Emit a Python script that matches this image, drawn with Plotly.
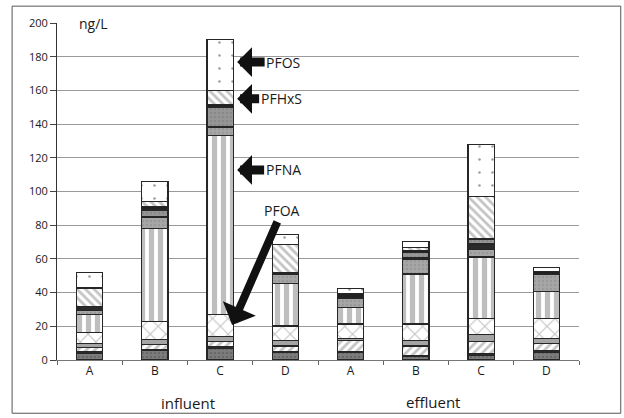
import plotly.graph_objects as go

# ---------------- data ----------------
cat_keys = ["inf-A", "inf-B", "inf-C", "inf-D", "eff-A", "eff-B", "eff-C", "eff-D"]
cat_labels = ["A", "B", "C", "D", "A", "B", "C", "D"]
group_labels = ["influent", "effluent"]

PFBA = [4, 5.5, 7, 4.5, 4.5, 2, 2.5, 4.5]
PFPeA = [1, 0.5, 1, 0.5, 0.5, 0.5, 1.5, 1]
PFHxA = [2.5, 3, 3, 3.3, 6.5, 5.8, 6.9, 4.4]
PFHpA = [2.4, 3, 3, 3.2, 1.4, 3.2, 4, 3]
PFOA = [6.4, 11, 13, 8.7, 8.5, 9.9, 9.9, 11.9]
PFNA = [10.5, 55, 106, 25, 9.6, 29.6, 36.3, 15.9]
PFDA = [2.5, 6.5, 5, 5.8, 5.7, 9, 4.4, 9.9]
PFUnDA = [2.4, 0.5, 0.5, 0, 0, 0.5, 3.3, 0]
PFDoDA = [0, 4, 11.5, 0, 0, 3.5, 3, 0]
PFBS = [0, 2, 1.5, 1, 2.6, 1, 0, 2]
PFHxS = [11, 3, 8.5, 16.5, 0.3, 2, 25, 0]
PFOS = [9.3, 12, 30, 6, 3, 3.5, 31.2, 2.4]

y_ticks = [0, 20, 40, 60, 80, 100, 120, 140, 160, 180, 200]

series = [
    ("PFBA", PFBA, dict(color="#7c7c7c", pattern=dict(shape=".", fgcolor="#555555", size=4, solidity=0.3))),
    ("PFPeA", PFPeA, dict(color="#2a2a2a")),
    ("PFHxA", PFHxA, dict(color="white", pattern=dict(shape="/", fgcolor="#888888", bgcolor="white", size=6, solidity=0.45))),
    ("PFHpA", PFHpA, dict(color="#a4a4a4")),
    ("PFOA", PFOA, dict(color="white", pattern=dict(shape="x", fgcolor="#888888", bgcolor="white", size=11, solidity=0.2))),
    ("PFNA", PFNA, dict(color="white", pattern=dict(shape="|", fgcolor="#7e7e7e", bgcolor="white", size=9, solidity=0.58))),
    ("PFDA", PFDA, dict(color="#a6a6a6", pattern=dict(shape=".", fgcolor="#8a8a8a", size=4, solidity=0.3))),
    ("PFUnDA", PFUnDA, dict(color="#2a2a2a")),
    ("PFDoDA", PFDoDA, dict(color="#969696", pattern=dict(shape=".", fgcolor="#7a7a7a", size=4, solidity=0.3))),
    ("PFBS", PFBS, dict(color="#222222")),
    ("PFHxS", PFHxS, dict(color="white", pattern=dict(shape="\\", fgcolor="#888888", bgcolor="white", size=6, solidity=0.45))),
    ("PFOS", PFOS, dict(color="white", pattern=dict(shape=".", fgcolor="#3a3a3a", bgcolor="white", size=13, solidity=0.03))),
]

fig = go.Figure()
for name, vals, mk in series:
    mk = dict(mk)
    mk["line"] = dict(color="#262626", width=1.2)
    fig.add_trace(go.Bar(x=cat_keys, y=vals, name=name, marker=mk, showlegend=False))

font = "Open Sans, Noto Sans, sans-serif"

fig.update_layout(
    barmode="stack",
    bargap=0.6,
    width=624, height=418,
    margin=dict(l=57, r=45, t=23, b=58),
    paper_bgcolor="white", plot_bgcolor="white",
    font=dict(family=font, color="#1a1a1a"),
    xaxis=dict(
        type="category", tickmode="array", tickvals=cat_keys, ticktext=cat_labels,
        tickson="boundaries", ticks="outside", ticklen=4, tickcolor="#666",
        showgrid=False, showline=True, linecolor="#777", linewidth=1,
        tickfont=dict(size=12, family=font, color="#1a1a1a"),
    ),
    yaxis=dict(
        range=[0, 200], tickmode="array", tickvals=y_ticks,
        ticks="outside", ticklen=6, tickcolor="#444",
        showgrid=True, gridcolor="#9a9a9a", gridwidth=1,
        showline=True, linecolor="#333", linewidth=1, zeroline=False,
        tickfont=dict(size=11, family=font, color="#1a1a1a"),
    ),
)

# frame around the whole chart
fig.add_shape(type="rect", xref="paper", yref="paper",
              x0=-0.086, x1=1.08, y0=-0.158, y1=1.05,
              line=dict(color="#555", width=1), fillcolor="rgba(0,0,0,0)", layer="below")

# unit label
fig.add_annotation(xref="paper", yref="y", x=0.07, y=200, text="ng/L", showarrow=False,
                   xanchor="center", yanchor="middle", bgcolor="white",
                   font=dict(size=14, family=font, color="#1a1a1a"))

# group labels
fig.add_annotation(xref="paper", yref="paper", x=0.251, y=-0.128, text=group_labels[0],
                   showarrow=False, xanchor="center", yanchor="middle",
                   font=dict(size=15, family=font, color="#1a1a1a"))
fig.add_annotation(xref="paper", yref="paper", x=0.72, y=-0.125, text=group_labels[1],
                   showarrow=False, xanchor="center", yanchor="middle",
                   font=dict(size=15, family=font, color="#1a1a1a"))

# arrows with compound names
arrow_font = dict(size=14, family=font, color="#1a1a1a")
for label, yval, ax in [("PFOS", 176.8, 46), ("PFHxS", 155, 44), ("PFNA", 112.8, 46)]:
    fig.add_annotation(x="inf-C", y=yval, xshift=17, text=label, showarrow=True,
                       ax=ax, ay=0, arrowhead=1, arrowsize=0.55, arrowwidth=9,
                       arrowcolor="#111", standoff=0, font=arrow_font)
fig.add_annotation(x="inf-C", y=20.8, xshift=12, text="PFOA", showarrow=True,
                   ax=50, ay=-114, arrowhead=1, arrowsize=0.75, arrowwidth=8,
                   arrowcolor="#111", standoff=0, font=arrow_font)

fig.write_html("out.html")
